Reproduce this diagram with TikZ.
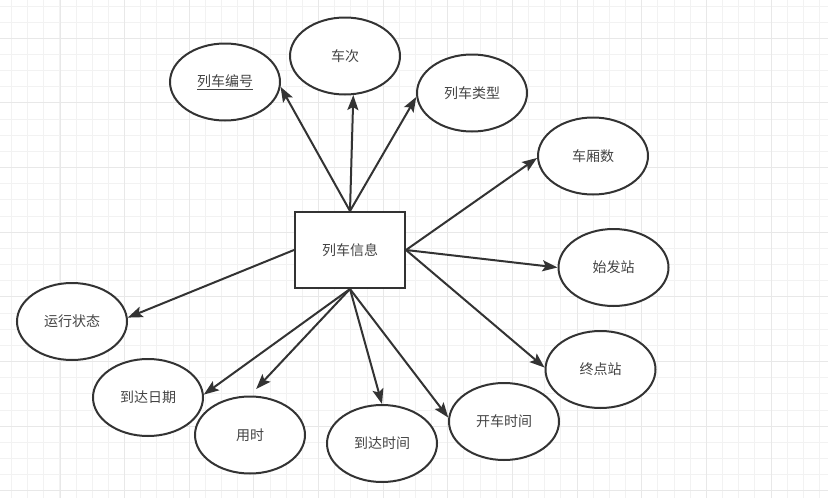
\documentclass[tikz,border=0pt]{standalone}
\usepackage{fontspec}
\setmainfont{Noto Sans CJK SC}
\usetikzlibrary{shapes.geometric,arrows.meta}
\definecolor{gridminor}{HTML}{F2F2F2}
\definecolor{gridmajor}{HTML}{E8E8E8}
\definecolor{ink}{HTML}{333333}
\definecolor{txt}{HTML}{444444}
\tikzset{
  attr/.style={ellipse, draw=ink, line width=2pt, fill=white, minimum width=110pt, minimum height=77pt, inner sep=0pt, font=\fontsize{14}{16}\selectfont, text=txt},
  entbox/.style={rectangle, draw=ink, line width=2pt, fill=white, minimum width=110pt, minimum height=76pt, inner sep=0pt, font=\fontsize{14}{16}\selectfont, text=txt},
  arr/.style={draw=ink, line width=2pt, -{Stealth[length=15pt,width=11pt,inset=3pt]}}
}
\begin{document}
\begin{tikzpicture}[x=1pt,y=-1pt]
\useasboundingbox (0,0) rectangle (828,498);
\fill[white] (0,0) rectangle (828,498);
\foreach \i in {0,...,50} {\draw[gridminor, line width=1pt] ({11.5+16.16*\i},0) -- ({11.5+16.16*\i},498);}
\foreach \i in {0,...,30} {\draw[gridminor, line width=1pt] (0,{6+16.16*\i}) -- (828,{6+16.16*\i});}
\foreach \k in {0,...,11} {\draw[gridmajor, line width=1pt] ({60+64.64*\k},0) -- ({60+64.64*\k},498);}
\foreach \k in {0,...,7} {\draw[gridmajor, line width=1pt] (0,{38.3+64.64*\k}) -- (828,{38.3+64.64*\k});}

\node[entbox] (ent) at (350,250) {列车信息};
\node[attr] (bh) at (225,82) {\underline{列车编号}};
\node[attr] (cc) at (345,56) {车次};
\node[attr] (lx) at (472,93) {列车类型};
\node[attr] (xs) at (593,156) {车厢数};
\node[attr] (sf) at (613.5,267.5) {始发站};
\node[attr] (zd) at (600.5,369.5) {终点站};
\node[attr] (yx) at (72,321.5) {运行状态};
\node[attr] (rq) at (148,397.5) {到达日期};
\node[attr] (ys) at (250,435) {用时};
\node[attr] (dd) at (382,443.5) {到达时间};
\node[attr] (kc) at (504,421.5) {开车时间};

\draw[arr] (ent.north) -- (bh.-5);
\draw[arr] (ent.north) -- (cc.-78);
\draw[arr] (ent.north) -- (lx.184);
\draw[arr] (ent.east) -- (xs.182);
\draw[arr] (ent.east) -- (sf.west);
\draw[arr] (ent.east) -- (zd.178);
\draw[arr] (ent.west) -- (yx.4);
\draw[arr] (ent.south) -- (rq.3);
\draw[arr, shorten >=9pt] (ent.south) -- (ys.north);
\draw[arr] (ent.south) -- (dd.north);
\draw[arr] (ent.south) -- (kc.176);
\end{tikzpicture}
\end{document}
